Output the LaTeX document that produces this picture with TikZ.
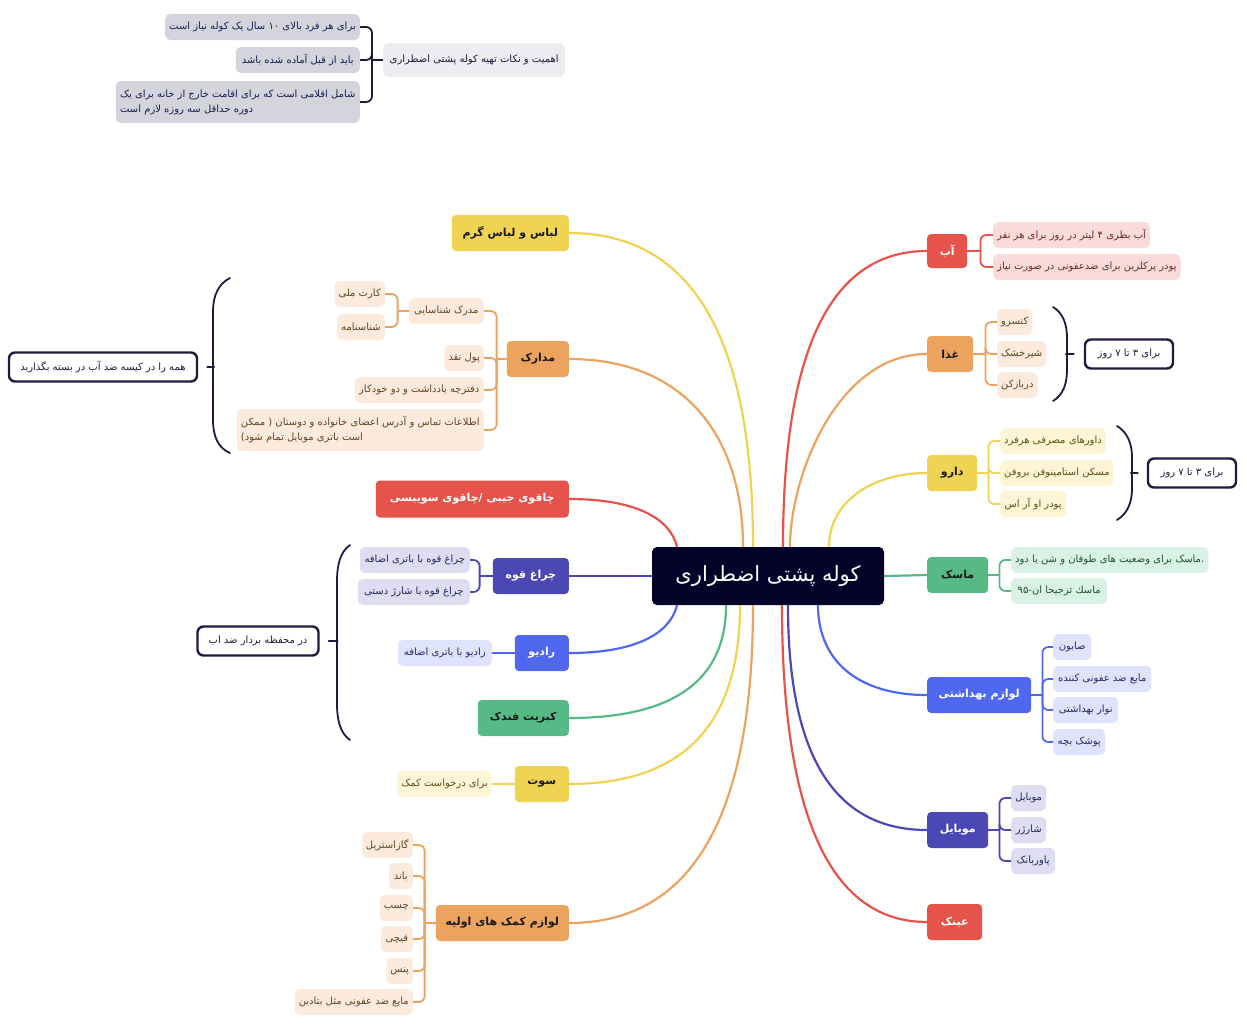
\documentclass[tikz,border=0pt]{standalone}
\usepackage{fontspec}
\setmainfont[Script=Arabic]{DejaVu Sans}
\TeXXeTstate=1
\newcommand\fa[1]{\beginR #1\endR}
\definecolor{rootc}{HTML}{03032A}
\definecolor{navy}{HTML}{1C1C40}
\definecolor{cred}{HTML}{E5534B}
\definecolor{corange}{HTML}{EBA35E}
\definecolor{cyellow}{HTML}{EFD353}
\definecolor{cgreen}{HTML}{57B985}
\definecolor{cblue}{HTML}{5068F0}
\definecolor{cindigo}{HTML}{4B47B3}
\definecolor{lred}{HTML}{F9DBD9}\definecolor{tred}{HTML}{6E2B27}
\definecolor{lorange}{HTML}{FCEBDC}\definecolor{torange}{HTML}{634324}
\definecolor{lyellow}{HTML}{FDF5D3}\definecolor{tyellow}{HTML}{5F501A}
\definecolor{lgreen}{HTML}{D9F2E5}\definecolor{tgreen}{HTML}{1E5236}
\definecolor{lblue}{HTML}{DFE3FD}\definecolor{tblue}{HTML}{252C6E}
\definecolor{lindigo}{HTML}{DEDDF1}\definecolor{tindigo}{HTML}{28265C}
\definecolor{lgray}{HTML}{D4D4DC}\definecolor{tgray}{HTML}{1C1C55}
\definecolor{groot}{HTML}{EDECF0}
\definecolor{darktext}{HTML}{1A1A1A}
\tikzset{
 rootnode/.style={fill=rootc, text=white, rounded corners=5pt, minimum width=232pt, minimum height=58pt, inner sep=0pt, font=\fontsize{21}{24}\selectfont},
 branch/.style={rounded corners=4pt, minimum height=36pt, inner xsep=6pt, inner ysep=0pt, font=\fontsize{11}{14}\selectfont\bfseries},
 bw/.style={branch, fill=#1, text=white},
 bd/.style={branch, fill=#1, text=darktext},
 leaf/.style={rounded corners=5pt, minimum height=26pt, inner xsep=4pt, inner ysep=3pt, font=\fontsize{10}{15}\selectfont},
 lf/.style={leaf, fill=l#1, text=t#1},
 note/.style={draw=navy, line width=2.4pt, rounded corners=6pt, fill=white, minimum height=29pt, inner xsep=8pt, text=navy, font=\fontsize{10}{12}\selectfont},
 conn/.style={draw=#1, line width=2.2pt},
 sub/.style={draw=#1, line width=1.8pt, rounded corners=6pt},
 brk/.style={draw=navy, line width=1.8pt, line cap=round},
}
\begin{document}
\begin{tikzpicture}[x=1pt, y=-1pt]
\useasboundingbox (0,0) rectangle (1247,1028);

% ---------- root
\node[rootnode] (root) at (768,576) {\fa{کوله پشتی اضطراری}};

% ---------- top-left group
\node[leaf, fill=groot, text=navy, anchor=west, minimum width=182pt, minimum height=34pt] (imp) at (383,60) {\fa{اهمیت و نکات تهیه کوله پشتی اضطراری}};
\node[lf=gray, anchor=east, minimum width=192pt] (i1) at (360,27) {\fa{برای هر فرد بالای ۱۰ سال یک کوله نیاز است}};
\node[lf=gray, anchor=east, minimum width=124pt] (i2) at (360,60) {\fa{باید از قبل آماده شده باشد}};
\node[lf=gray, anchor=east, minimum width=244pt, minimum height=42pt, align=left] (i3) at (360,102) {\fa{شامل اقلامی است که برای اقامت خارج از خانه برای یک}\\\fa{دوره حداقل سه روزه لازم است}};
\coordinate (ij) at ([xshift=-11pt]imp.west);
\draw[sub=navy] (imp.west) -- (ij);
\draw[sub=navy] (ij) |- (i1.east);
\draw[sub=navy] (ij) |- (i2.east);
\draw[sub=navy] (ij) |- (i3.east);

% ---------- left branches
\node[bd=cyellow, anchor=east, minimum width=117pt] (lebas) at (569,233) {\fa{لباس و لباس گرم}};
\node[bd=corange, anchor=east, minimum width=62pt] (madarek) at (569,359) {\fa{مدارک}};
\node[bw=cred, anchor=east, minimum width=193pt, minimum height=37pt] (knife) at (569,499) {\fa{چاقوی جیبی /چاقوی سوییسی}};
\node[bw=cindigo, anchor=east, minimum width=76pt] (cheragh) at (569,576) {\fa{چراغ قوه}};
\node[bw=cblue, anchor=east, minimum width=54pt] (radio) at (569,653) {\fa{رادیو}};
\node[bd=cgreen, anchor=east, minimum width=91pt] (kebrit) at (569,718) {\fa{کبریت فندک}};
\node[bd=cyellow, anchor=east, minimum width=54pt] (sout) at (569,784) {\fa{سوت}};
\node[bd=corange, anchor=east, minimum width=133pt] (komak) at (569,923) {\fa{لوازم کمک های اولیه}};

% ---------- right branches
\node[bw=cred, anchor=west, minimum width=40pt, minimum height=34pt] (ab) at (927,251) {\fa{آب}};
\node[bd=corange, anchor=west, minimum width=46pt] (ghaza) at (927,354) {\fa{غذا}};
\node[bd=cyellow, anchor=west, minimum width=50pt] (daru) at (927,473) {\fa{دارو}};
\node[bd=cgreen, anchor=west, minimum width=61pt] (mask) at (927,575) {\fa{ماسک}};
\node[bw=cblue, anchor=west, minimum width=104pt] (behdasht) at (927,695) {\fa{لوازم بهداشتی}};
\node[bw=cindigo, anchor=west, minimum width=61pt] (mobile) at (927,830) {\fa{موبایل}};
\node[bw=cred, anchor=west, minimum width=55pt] (eynak) at (927,922) {\fa{عینک}};

% ---------- main connectors
\draw[conn=cred] ([xshift=15pt]root.north) .. controls +(0,-198) and +(-96,0) .. (ab.west);
\draw[conn=corange] ([xshift=22pt]root.north) .. controls +(0,-70) and +(-90,0) .. (ghaza.west);
\draw[conn=cyellow] ([xshift=61pt]root.north) .. controls +(0,-45) and +(-55,0) .. (daru.west);
\draw[conn=cgreen] (root.east) -- (mask.west);
\draw[conn=cblue] ([xshift=50pt]root.south) .. controls +(0,55) and +(-70,0) .. (behdasht.west);
\draw[conn=cindigo] ([xshift=20pt]root.south) .. controls +(0,150) and +(-93,0) .. (mobile.west);
\draw[conn=cred] ([xshift=14pt]root.south) .. controls +(0,210) and +(-97,0) .. (eynak.west);
\draw[conn=cyellow] ([xshift=-15pt]root.north) .. controls +(0,-210) and +(123,0) .. (lebas.east);
\draw[conn=corange] ([xshift=-25pt]root.north) .. controls +(0,-110) and +(116,0) .. (madarek.east);
\draw[conn=cred] ([xshift=-91pt]root.north) .. controls +(-8,-32) and +(60,0) .. (knife.east);
\draw[conn=cindigo] (root.west) -- (cheragh.east);
\draw[conn=cblue] ([xshift=-91pt]root.south) .. controls +(-8,32) and +(60,0) .. (radio.east);
\draw[conn=cgreen] ([xshift=-42pt]root.south) .. controls +(0,75) and +(105,0) .. (kebrit.east);
\draw[conn=cyellow] ([xshift=-28pt]root.south) .. controls +(0,120) and +(114,0) .. (sout.east);
\draw[conn=corange] ([xshift=-15pt]root.south) .. controls +(0,212) and +(123,0) .. (komak.east);

% ---------- madarek
\node[lf=orange, anchor=east, minimum width=75pt] (m1) at (484,311) {\fa{مدرک شناسایی}};
\node[lf=orange, anchor=east, minimum width=38pt] (m2) at (484,358) {\fa{پول نقد}};
\node[lf=orange, anchor=east, minimum width=129pt] (m3) at (484,390) {\fa{دفترچه یادداشت و دو خودکار}};
\node[lf=orange, anchor=east, minimum width=247pt, minimum height=42pt, align=left] (m4) at (484,430) {\fa{اطلاعات تماس و آدرس اعضای خانواده و دوستان ( ممکن}\\\fa{است باتری موبایل تمام شود)}};
\node[lf=orange, anchor=east, minimum width=45pt] (m11) at (385,294) {\fa{کارت ملی}};
\node[lf=orange, anchor=east, minimum width=45pt] (m12) at (385,327) {\fa{شناسنامه}};
\coordinate (mj) at ([xshift=-10pt]madarek.west);
\draw[sub=corange] (madarek.west) -- (mj);
\foreach \c in {m1,m2,m3,m4} \draw[sub=corange] (mj) |- (\c.east);
\coordinate (m1j) at ([xshift=-11pt]m1.west);
\draw[sub=corange] (m1.west) -- (m1j);
\foreach \c in {m11,m12} \draw[sub=corange] (m1j) |- (\c.east);

\node[note, minimum width=188pt] (n1) at (103,367) {\fa{همه را در کیسه ضد آب در بسته بگذارید}};
\draw[brk] (230,278) .. controls (218,284) and (213,296) .. (213,312) -- (213,420) .. controls (213,436) and (218,448) .. (230,453);
\draw[brk] ([xshift=9pt]n1.east) -- ++(7,0);

% ---------- cheragh / radio
\node[lf=indigo, anchor=east, minimum width=110pt] (c1) at (470,560) {\fa{چراغ قوه با باتری اضافه}};
\node[lf=indigo, anchor=east, minimum width=112pt] (c2) at (470,592) {\fa{چراغ قوه با شارژ دستی}};
\coordinate (cj) at ([xshift=-13pt]cheragh.west);
\draw[sub=cindigo] (cheragh.west) -- (cj);
\foreach \c in {c1,c2} \draw[sub=cindigo] (cj) |- (\c.east);
\node[lf=blue, anchor=east, minimum width=94pt] (r1) at (492,653) {\fa{رادیو با باتری اضافه}};
\draw[sub=cblue] (radio.west) -- (r1.east);

\node[note, minimum width=121pt] (n2) at (258,641) {\fa{در محفظه بردار ضد اب}};
\draw[brk] (350,545) .. controls (340,552) and (337,565) .. (337,582) -- (337,703) .. controls (337,720) and (340,733) .. (350,740);
\draw[brk] ([xshift=9pt]n2.east) -- ++(9,0);

% ---------- sout
\node[lf=yellow, anchor=east, minimum width=90pt] (s1) at (492,784) {\fa{برای درخواست کمک}};
\draw[sub=cyellow] (sout.west) -- (s1.east);

% ---------- komak
\node[lf=orange, anchor=east, minimum width=51pt] (k1) at (413,845) {\fa{گازاستریل}};
\node[lf=orange, anchor=east, minimum width=24pt] (k2) at (413,876) {\fa{باند}};
\node[lf=orange, anchor=east, minimum width=32pt] (k3) at (413,908) {\fa{چسب}};
\node[lf=orange, anchor=east, minimum width=32pt] (k4) at (413,939) {\fa{قیچی}};
\node[lf=orange, anchor=east, minimum width=26pt] (k5) at (413,971) {\fa{پنس}};
\node[lf=orange, anchor=east, minimum width=118pt] (k6) at (413,1002) {\fa{مایع ضد عفونی مثل بتادین}};
\coordinate (kj) at ([xshift=-11pt]komak.west);
\draw[sub=corange] (komak.west) -- (kj);
\foreach \c in {k1,k2,k3,k4,k5,k6} \draw[sub=corange] (kj) |- (\c.east);

% ---------- ab
\node[lf=red, anchor=west, minimum width=155pt] (a1) at (993,235) {\fa{آب بطری ۴ لیتر در روز برای هر نفر}};
\node[lf=red, anchor=west, minimum width=184pt] (a2) at (993,267) {\fa{پودر پرکلرین برای ضدعفونی در صورت نیاز}};
\coordinate (aj) at ([xshift=13pt]ab.east);
\draw[sub=cred] (ab.east) -- (aj);
\foreach \c in {a1,a2} \draw[sub=cred] (aj) |- (\c.west);

% ---------- ghaza
\node[lf=orange, anchor=west, minimum width=35pt] (g1) at (997,322) {\fa{کنسرو}};
\node[lf=orange, anchor=west, minimum width=48pt] (g2) at (997,354) {\fa{شیرخشک}};
\node[lf=orange, anchor=west, minimum width=40pt] (g3) at (997,385) {\fa{دربازکن}};
\coordinate (gj) at ([xshift=12pt]ghaza.east);
\draw[sub=corange] (ghaza.east) -- (gj);
\foreach \c in {g1,g2,g3} \draw[sub=corange] (gj) |- (\c.west);
\node[note, minimum width=88pt] (n3) at (1129,354) {\fa{برای ۳ تا ۷ روز}};
\draw[brk] (1053,307) .. controls (1063,313) and (1067,324) .. (1067,338) -- (1067,370) .. controls (1067,384) and (1063,395) .. (1053,401);
\draw[brk] ([xshift=-10pt]n3.west) -- ++(-8,0);

% ---------- daru
\node[lf=yellow, anchor=west, minimum width=103pt] (d1) at (1000,441) {\fa{داورهای مصرفی هرفرد}};
\node[lf=yellow, anchor=west, minimum width=108pt] (d2) at (1000,473) {\fa{مسکن استامینوفن بروفن}};
\node[lf=yellow, anchor=west, minimum width=66pt] (d3) at (1000,504) {\fa{پودر او آر اس}};
\coordinate (dj) at ([xshift=11pt]daru.east);
\draw[sub=cyellow] (daru.east) -- (dj);
\foreach \c in {d1,d2,d3} \draw[sub=cyellow] (dj) |- (\c.west);
\node[note, minimum width=88pt] (n4) at (1192,473) {\fa{برای ۳ تا ۷ روز}};
\draw[brk] (1117,426) .. controls (1127,432) and (1132,443) .. (1132,457) -- (1132,489) .. controls (1132,503) and (1127,514) .. (1117,520);
\draw[brk] ([xshift=-9pt]n4.west) -- ++(-7,0);

% ---------- mask
\node[lf=green, anchor=west, minimum width=195pt] (ms1) at (1011,560) {\fa{ماسک برای وضعیت های طوفان و شن یا دود}.};
\node[lf=green, anchor=west, minimum width=96pt] (ms2) at (1011,591) {\fa{ماسك ترجیحا ان-\beginL ۹۵\endL}};
\coordinate (msj) at ([xshift=11pt]mask.east);
\draw[sub=cgreen] (mask.east) -- (msj);
\foreach \c in {ms1,ms2} \draw[sub=cgreen] (msj) |- (\c.west);

% ---------- behdasht
\node[lf=blue, anchor=west, minimum width=38pt] (h1) at (1053,647) {\fa{صابون}};
\node[lf=blue, anchor=west, minimum width=98pt] (h2) at (1053,679) {\fa{مایع ضد عفونی کننده}};
\node[lf=blue, anchor=west, minimum width=65pt] (h3) at (1053,710) {\fa{نوار بهداشتی}};
\node[lf=blue, anchor=west, minimum width=52pt] (h4) at (1053,742) {\fa{پوشک بچه}};
\coordinate (hj) at ([xshift=11pt]behdasht.east);
\draw[sub=cblue] (behdasht.east) -- (hj);
\foreach \c in {h1,h2,h3,h4} \draw[sub=cblue] (hj) |- (\c.west);

% ---------- mobile
\node[lf=indigo, anchor=west, minimum width=35pt] (mb1) at (1011,798) {\fa{موبایل}};
\node[lf=indigo, anchor=west, minimum width=35pt] (mb2) at (1011,830) {\fa{شارژر}};
\node[lf=indigo, anchor=west, minimum width=44pt] (mb3) at (1011,861) {\fa{پاوربانک}};
\coordinate (mbj) at ([xshift=11pt]mobile.east);
\draw[sub=cindigo] (mobile.east) -- (mbj);
\foreach \c in {mb1,mb2,mb3} \draw[sub=cindigo] (mbj) |- (\c.west);
\end{tikzpicture}
\end{document}
